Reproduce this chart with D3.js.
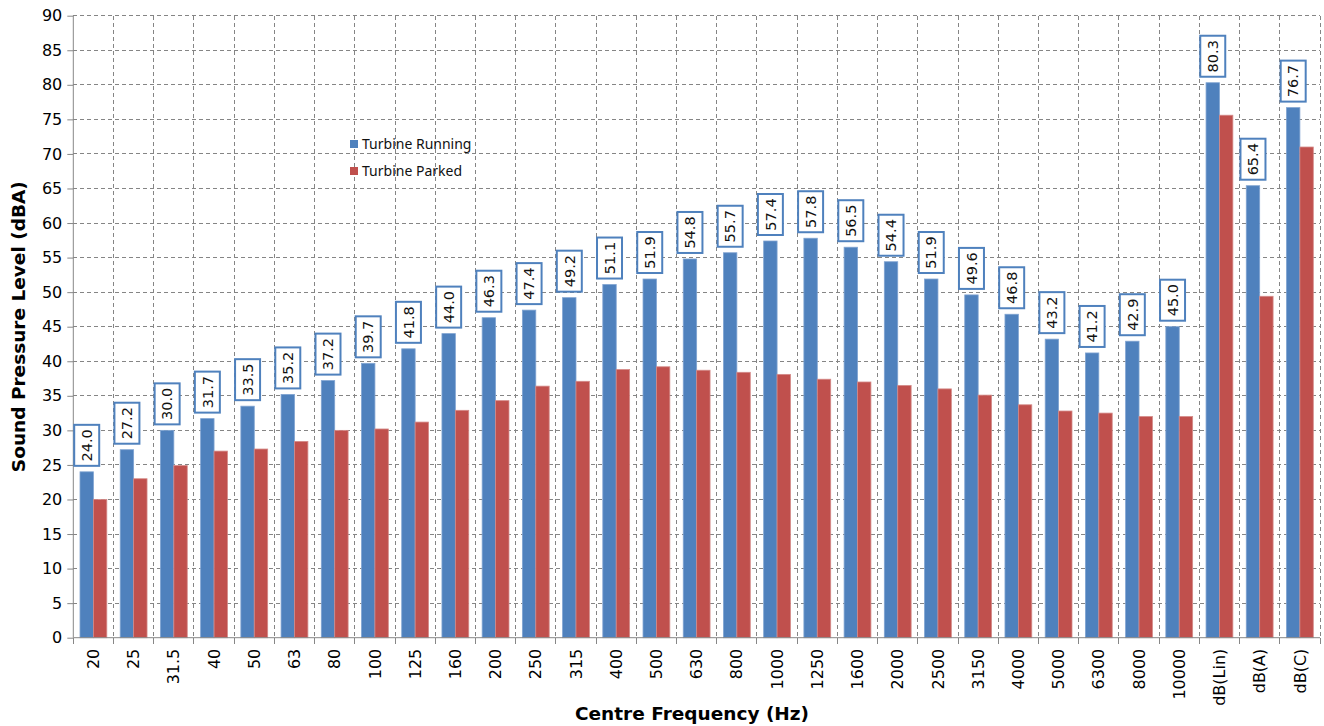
<!DOCTYPE html>
<html>
<head>
<meta charset="utf-8">
<script src="https://cdn.jsdelivr.net/npm/d3@7"></script>
<style>
  html, body { margin: 0; padding: 0; background: #fff; }
  svg { display: block; }
</style>
</head>
<body>
<svg id="chart" width="1324" height="726"></svg>
<script>
// Third-octave band centre frequencies plus overall weighted levels
const categories = ["20","25","31.5","40","50","63","80","100","125","160","200","250","315","400","500","630","800","1000","1250","1600","2000","2500","3150","4000","5000","6300","8000","10000","dB(Lin)","dB(A)","dB(C)"];

const turbineRunning = [24.0,27.2,30.0,31.7,33.5,35.2,37.2,39.7,41.8,44.0,46.3,47.4,49.2,51.1,51.9,54.8,55.7,57.4,57.8,56.5,54.4,51.9,49.6,46.8,43.2,41.2,42.9,45.0,80.3,65.4,76.7];

const turbineParked = [20.0,23.0,24.9,27.0,27.3,28.4,30.0,30.2,31.2,32.9,34.3,36.4,37.1,38.8,39.2,38.7,38.4,38.1,37.4,37.0,36.5,36.0,35.1,33.7,32.8,32.5,32.0,32.0,75.6,49.4,71.0];

const yTicks = [0,5,10,15,20,25,30,35,40,45,50,55,60,65,70,75,80,85,90];

const seriesNames = ["Turbine Running", "Turbine Parked"];
const seriesColors = ["#4F81BD", "#C0504D"];
const seriesStroke = ["#7fa3d1", "#d48a88"];

const plotLeft = 73.3, plotRight = 1320, plotTop = 15.7, plotBottom = 637.7;

const svg = d3.select("#chart");

const x = d3.scaleBand().domain(categories).range([plotLeft, plotRight]).paddingInner(0).paddingOuter(0);
const xs = d3.scaleBand().domain(seriesNames).range([0, x.bandwidth()]).paddingInner(0).paddingOuter(0.5);
const y = d3.scaleLinear().domain([0, 90]).range([plotBottom, plotTop]);

const gridColor = "#858585";
const axisColor = "#878787";

// Horizontal grid lines
svg.append("g").selectAll("line").data(yTicks.filter(t => t > 0)).join("line")
  .attr("x1", plotLeft).attr("x2", plotRight)
  .attr("y1", d => y(d)).attr("y2", d => y(d))
  .attr("stroke", gridColor).attr("stroke-width", 1)
  .attr("stroke-dasharray", "4,3")
  .attr("shape-rendering", "crispEdges");

// Vertical grid lines at category boundaries
const bounds = categories.slice(1).map(c => x(c)).concat([plotRight]);
svg.append("g").selectAll("line").data(bounds).join("line")
  .attr("x1", d => d).attr("x2", d => d)
  .attr("y1", plotTop).attr("y2", plotBottom)
  .attr("stroke", gridColor).attr("stroke-width", 1)
  .attr("stroke-dasharray", "4,3")
  .attr("shape-rendering", "crispEdges");

// Bars
const rows = categories.map((c, i) => ({ c, vals: [turbineRunning[i], turbineParked[i]] }));
const groups = svg.append("g").selectAll("g").data(rows).join("g")
  .attr("transform", d => `translate(${x(d.c)},0)`);
groups.selectAll("rect").data(d => d.vals.map((v, k) => ({ v, k }))).join("rect")
  .attr("x", d => xs(seriesNames[d.k]))
  .attr("width", xs.bandwidth())
  .attr("y", d => y(d.v))
  .attr("height", d => y(0) - y(d.v))
  .attr("fill", d => seriesColors[d.k])
  .attr("stroke", d => seriesStroke[d.k])
  .attr("stroke-width", 0.8);

// Axes
const yAxis = d3.axisLeft(y).tickValues(yTicks).tickSize(6).tickPadding(5);
const gy = svg.append("g").attr("transform", `translate(${plotLeft},0)`).call(yAxis);
gy.select(".domain").attr("stroke", axisColor).attr("d", `M0,${plotTop}V${plotBottom}`);
gy.selectAll(".tick line").attr("stroke", axisColor);
gy.selectAll(".tick text")
  .attr("font-family", "DejaVu Sans, sans-serif").attr("font-size", 16).attr("fill", "#000");

const xAxis = d3.axisBottom(x).tickSize(0).tickFormat(d => d);
const gx = svg.append("g").attr("transform", `translate(0,${plotBottom})`).call(xAxis);
gx.select(".domain").attr("stroke", axisColor).attr("d", `M${plotLeft},0H${plotRight}`);
gx.selectAll(".tick text")
  .attr("font-family", "DejaVu Sans, sans-serif").attr("font-size", 16).attr("fill", "#000")
  .attr("text-anchor", "end")
  .attr("transform", "rotate(-90)")
  .attr("x", -11).attr("y", 0).attr("dy", "0.35em");
// boundary tick marks on the category axis
svg.append("g").selectAll("line").data([plotLeft].concat(bounds)).join("line")
  .attr("x1", d => d).attr("x2", d => d)
  .attr("y1", plotBottom).attr("y2", plotBottom + 6)
  .attr("stroke", axisColor).attr("shape-rendering", "crispEdges");

// Value labels above the running bars
const boxW = 25, boxH = 41, gap = 6;
const labels = svg.append("g").selectAll("g").data(rows).join("g")
  .attr("transform", d => {
    const cx = x(d.c) + xs(seriesNames[0]) + xs.bandwidth() / 2;
    const cy = y(d.vals[0]) - gap - boxH / 2;
    return `translate(${cx},${cy})`;
  });
labels.append("rect")
  .attr("x", -boxW / 2).attr("y", -boxH / 2)
  .attr("width", boxW).attr("height", boxH)
  .attr("fill", "#fff").attr("stroke", "#4F81BD").attr("stroke-width", 2);
labels.append("text")
  .attr("transform", "rotate(-90)")
  .attr("text-anchor", "middle").attr("dy", "0.36em")
  .attr("font-family", "DejaVu Sans, sans-serif").attr("font-size", 14.5).attr("fill", "#111")
  .text(d => d.vals[0].toFixed(1));

// Legend
const legend = svg.append("g").attr("transform", "translate(350,0)");
const legendY = [144, 171];
seriesNames.forEach((name, k) => {
  legend.append("rect").attr("x", 0).attr("y", legendY[k] - 4).attr("width", 8).attr("height", 8)
    .attr("fill", seriesColors[k]);
  legend.append("text").attr("x", 12).attr("y", legendY[k]).attr("dy", "0.35em")
    .attr("font-family", "Noto Sans, sans-serif").attr("font-size", 14).attr("fill", "#111")
    .text(name);
});

// Axis titles
svg.append("text")
  .attr("transform", `translate(25,${(plotTop + plotBottom) / 2}) rotate(-90)`)
  .attr("text-anchor", "middle")
  .attr("font-family", "DejaVu Sans, sans-serif").attr("font-weight", "bold").attr("font-size", 18.5)
  .attr("fill", "#000")
  .text("Sound Pressure Level (dBA)");

svg.append("text")
  .attr("x", 692).attr("y", 720)
  .attr("text-anchor", "middle")
  .attr("font-family", "DejaVu Sans, sans-serif").attr("font-weight", "bold").attr("font-size", 18.5)
  .attr("fill", "#000")
  .text("Centre Frequency (Hz)");
</script>
</body>
</html>
